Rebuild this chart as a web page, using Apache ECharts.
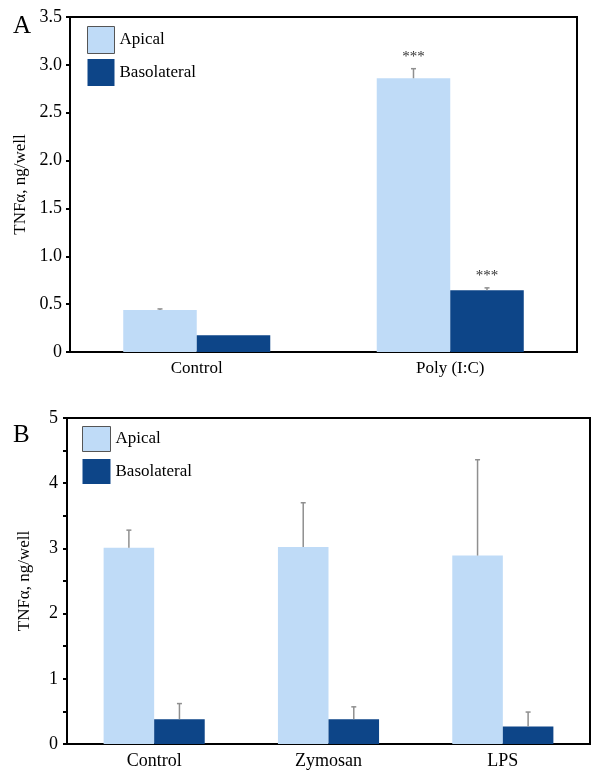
<!DOCTYPE html>
<html>
<head>
<meta charset="utf-8">
<script src="https://cdn.jsdelivr.net/npm/echarts@6/dist/echarts.min.js"></script>
<style>html,body{margin:0;padding:0;background:#fff;}#c{width:602px;height:775px;}</style>
</head>
<body>
<div id="c"></div>
<script>
// Panel A data
const catsA = ['Control', 'Poly (I:C)'];
const apicalA = [0.44, 2.86];
const apicalErrA = [0.45, 2.96];
const basoA = [0.175, 0.645];
const basoErrA = [null, 0.67];
const starsApicalA = ['', '***'];
const starsBasoA = ['', '***'];
const ticksA = [0, 0.5, 1.0, 1.5, 2.0, 2.5, 3.0, 3.5];

// Panel B data
const catsB = ['Control', 'Zymosan', 'LPS'];
const apicalB = [3.01, 3.02, 2.89];
const apicalErrB = [3.28, 3.70, 4.36];
const basoB = [0.38, 0.38, 0.27];
const basoErrB = [0.62, 0.57, 0.49];
const ticksB = [0, 1, 2, 3, 4, 5];

const seriesNames = ['Apical', 'Basolateral'];
const yName = 'TNFα, ng/well';

const FONT = 'Liberation Serif';
const LIGHT = '#BFDBF7';
const DARK = '#0D4588';
const BW = 0.29;

function errData(ap, apE, ba, baE, stA, stB) {
  const out = [];
  ap.forEach((v, i) => out.push([i, v, apE[i], 0, stA ? stA[i] : '']));
  ba.forEach((v, i) => out.push([i, v, baE[i], 1, stB ? stB[i] : '']));
  return out;
}

function renderErr(params, api) {
  const ci = api.value(0), v = api.value(1), e = api.value(2), side = api.value(3);
  const c = api.coord([ci, v]);
  const band = api.size([1, 0])[0];
  const x = c[0] + (side === 0 ? -1 : 1) * band * BW / 2;
  const children = [];
  if (e !== null && !isNaN(e)) {
    const t = api.coord([ci, e]);
    children.push({type: 'line', shape: {x1: x, y1: c[1], x2: x, y2: t[1]}, style: {stroke: '#8f8f8f', lineWidth: 1.5}});
    children.push({type: 'line', shape: {x1: x - 2.5, y1: t[1], x2: x + 2.5, y2: t[1]}, style: {stroke: '#8f8f8f', lineWidth: 1.5}});
  }
  return {type: 'group', children: children};
}

function starRender(params, api) {
  const ci = api.value(0), e = api.value(2), side = api.value(3);
  const s = api.value(4);
  if (!s) return null;
  const t = api.coord([ci, e]);
  const band = api.size([1, 0])[0];
  const x = t[0] + (side === 0 ? -1 : 1) * band * BW / 2;
  return {type: 'text', x: x, y: t[1] - 4, style: {text: s, fill: '#333', font: '15px "' + FONT + '"', align: 'center', verticalAlign: 'bottom'}};
}

const legendData = [
  {name: 'Apical', itemStyle: {borderColor: '#555', borderWidth: 1}},
  {name: 'Basolateral'}
];

const chart = echarts.init(document.getElementById('c'), null, {renderer: 'canvas'});
chart.setOption({
  animation: false,
  backgroundColor: '#fff',
  textStyle: {fontFamily: FONT, color: '#000'},
  title: [
    {text: 'A', left: 8, top: 9, textStyle: {fontFamily: FONT, fontSize: 25, fontWeight: 'normal', color: '#000'}},
    {text: 'B', left: 8, top: 418, textStyle: {fontFamily: FONT, fontSize: 25, fontWeight: 'normal', color: '#000'}}
  ],
  legend: [
    {orient: 'vertical', left: 87, top: 26, padding: 0, itemWidth: 27, itemHeight: 27, itemGap: 5, icon: 'rect',
     data: legendData, textStyle: {fontFamily: FONT, fontSize: 17, color: '#000'}, selectedMode: false},
    {orient: 'vertical', left: 82, top: 426, padding: 0, itemWidth: 28, itemHeight: 25, itemGap: 7, icon: 'rect',
     data: legendData, textStyle: {fontFamily: FONT, fontSize: 17, color: '#000'}, selectedMode: false}
  ],
  grid: [
    {left: 70, right: 25, top: 17, bottom: 775 - 352, show: true, borderColor: '#000', borderWidth: 2},
    {left: 67, right: 12, top: 418, bottom: 775 - 744, show: true, borderColor: '#000', borderWidth: 2}
  ],
  xAxis: [
    {type: 'category', gridIndex: 0, data: catsA, axisTick: {show: false},
     axisLine: {lineStyle: {color: '#000', width: 2}},
     axisLabel: {fontFamily: FONT, fontSize: 17, color: '#000', margin: 8}},
    {type: 'category', gridIndex: 1, data: catsB, axisTick: {show: false},
     axisLine: {lineStyle: {color: '#000', width: 2}},
     axisLabel: {fontFamily: FONT, fontSize: 18, color: '#000', margin: 8}}
  ],
  yAxis: [
    {type: 'value', gridIndex: 0, min: ticksA[0], max: ticksA[ticksA.length - 1], interval: 0.5,
     splitLine: {show: false}, axisLine: {show: true, lineStyle: {color: '#000', width: 2}},
     axisTick: {show: true, length: 4, lineStyle: {color: '#000', width: 2}},
     axisLabel: {fontFamily: FONT, fontSize: 18, color: '#000', margin: 8,
       formatter: v => v === 0 ? '0' : v.toFixed(1)},
     name: yName, nameLocation: 'middle', nameGap: 38, nameRotate: 90,
     nameTextStyle: {fontFamily: FONT, fontSize: 17, color: '#000'}},
    {type: 'value', gridIndex: 1, min: ticksB[0], max: ticksB[ticksB.length - 1], interval: 1,
     splitLine: {show: false}, axisLine: {show: true, lineStyle: {color: '#000', width: 2}},
     axisTick: {show: true, length: 4, lineStyle: {color: '#000', width: 2}},
     minorTick: {show: true, splitNumber: 2, length: 4, lineStyle: {color: '#000', width: 2}},
     axisLabel: {fontFamily: FONT, fontSize: 18, color: '#000', margin: 9},
     name: yName, nameLocation: 'middle', nameGap: 34, nameRotate: 90,
     nameTextStyle: {fontFamily: FONT, fontSize: 17, color: '#000'}}
  ],
  series: [
    {name: seriesNames[0], type: 'bar', xAxisIndex: 0, yAxisIndex: 0, data: apicalA, barWidth: (BW * 100) + '%', barGap: '0%', itemStyle: {color: LIGHT}},
    {name: seriesNames[1], type: 'bar', xAxisIndex: 0, yAxisIndex: 0, data: basoA, barWidth: (BW * 100) + '%', barGap: '0%', itemStyle: {color: DARK}},
    {type: 'custom', xAxisIndex: 0, yAxisIndex: 0, renderItem: renderErr, data: errData(apicalA, apicalErrA, basoA, basoErrA, starsApicalA, starsBasoA), z: 5},
    {type: 'custom', xAxisIndex: 0, yAxisIndex: 0, renderItem: starRender, data: errData(apicalA, apicalErrA, basoA, basoErrA, starsApicalA, starsBasoA), z: 6},
    {name: seriesNames[0], type: 'bar', xAxisIndex: 1, yAxisIndex: 1, data: apicalB, barWidth: (BW * 100) + '%', barGap: '0%', itemStyle: {color: LIGHT}},
    {name: seriesNames[1], type: 'bar', xAxisIndex: 1, yAxisIndex: 1, data: basoB, barWidth: (BW * 100) + '%', barGap: '0%', itemStyle: {color: DARK}},
    {type: 'custom', xAxisIndex: 1, yAxisIndex: 1, renderItem: renderErr, data: errData(apicalB, apicalErrB, basoB, basoErrB, null, null), z: 5}
  ]
});
</script>
</body>
</html>
